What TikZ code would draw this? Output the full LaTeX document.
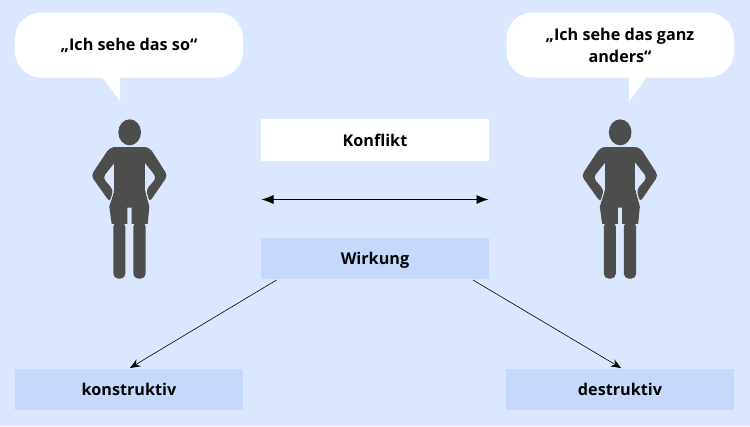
\documentclass[tikz,border=0pt]{standalone}
\usepackage{fontspec}
\setmainfont{Open Sans}
\usetikzlibrary{arrows.meta}
\definecolor{bgc}{HTML}{DBE7FF}
\definecolor{boxc}{HTML}{C6D9FD}
\definecolor{figc}{HTML}{4D4D4D}
\tikzset{
  x=1pt,y=-1pt,
  lab/.style={font=\fontsize{16.2pt}{22.5pt}\selectfont\bfseries,text=black,align=center,inner sep=0pt},
  boxtext/.style={text height=12.5pt,text depth=0pt},
  whitebox/.style={fill=white,draw=none,minimum width=228pt,minimum height=42pt,inner sep=0pt},
  bluebox/.style={fill=boxc,draw=none,minimum width=228pt,minimum height=41pt,inner sep=0pt},
  bubble/.style={fill=white,draw=none},
  conn/.style={draw=black,line width=0.6pt,-{Stealth[length=10pt,width=8pt]}},
  dbl/.style={draw=black,line width=0.7pt,{Latex[length=12pt,width=9pt]}-{Latex[length=12pt,width=9pt]}},
  person/.pic={
    \begin{scope}[x=0.3333pt,y=-0.3333pt]
      \fill[figc] (149,67) ellipse [x radius=34,y radius=39];
      % torso
      \fill[figc] (103,110) rectangle (195,290);
      % arms
      \fill[figc,rounded corners=4pt] (112,109) -- (88,114) -- (33,197) -- (90,277) -- (100,240) -- (68,203) -- (110,150) -- cycle;
      \fill[figc,rounded corners=4pt] (186,109) -- (210,114) -- (263,197) -- (208,277) -- (198,240) -- (230,203) -- (188,150) -- cycle;
      % shorts
      \fill[figc] (103,240) -- (195,240) -- (208,290) -- (203,342) -- (155,342) -- (155,293) -- (142,293) -- (142,342) -- (95,342) -- (88,290) -- cycle;
      % legs
      \fill[figc,rounded corners=5pt] (100,335) -- (136,335) -- (136,506) -- (100,506) -- cycle;
      \fill[figc,rounded corners=5pt] (160,335) -- (197,335) -- (197,506) -- (160,506) -- cycle;
      % gaps between hands and body
      \draw[bgc,line width=0.8pt] (100,245) -- (92,272);
      \draw[bgc,line width=0.8pt] (198,245) -- (206,272);
    \end{scope}
  }
}
\begin{document}
\begin{tikzpicture}
\useasboundingbox (0,426) rectangle (750,0);
\fill[bgc] (0,426) rectangle (750,0);

% speech bubbles
\fill[bubble,rounded corners=26pt] (15,12.5) rectangle (243,77.5);
\fill[bubble] (102,77) -- (120,101) -- (120,77) -- cycle;
\fill[bubble,rounded corners=26pt] (506.5,12.5) rectangle (734,77.5);
\fill[bubble] (629,77) -- (629,101) -- (647,77) -- cycle;
\node[lab] (say1) at (129,45.5) {„Ich sehe das so“};
\node[lab] (say2) at (620,45.5) {„Ich sehe das ganz\\anders“};

% persons
\pic at (80,110) {person};
\pic at (570.5,110) {person};

% boxes
\node[whitebox,lab,boxtext] (konflikt) at (375,140) {Konflikt};
\node[bluebox,lab,boxtext] (wirkung) at (375,258.5) {Wirkung};
\node[bluebox,lab,boxtext] (konstr) at (129,389.5) {konstruktiv};
\node[bluebox,lab,boxtext] (destr) at (620,389.5) {destruktiv};

% connectors
\coordinate (dl) at (261.5,199.5);
\coordinate (dr) at (488.5,199.5);
\draw[dbl] (dl) -- (dr);
\coordinate (wl) at (276.5,280);
\coordinate (wr) at (473,280);
\coordinate (kt) at (130,368);
\coordinate (dt) at (621,368);
\draw[conn] (wl) -- (kt);
\draw[conn] (wr) -- (dt);
\end{tikzpicture}
\end{document}
